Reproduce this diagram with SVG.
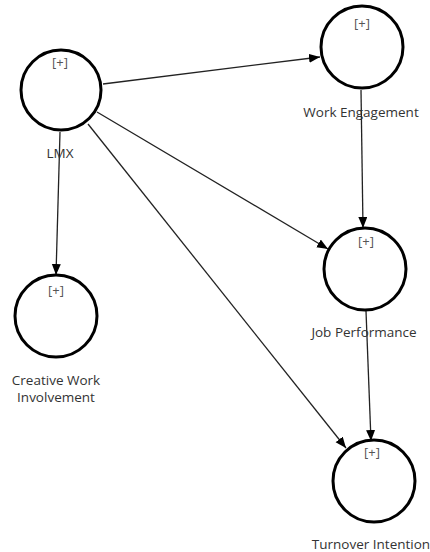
<svg xmlns="http://www.w3.org/2000/svg" width="430" height="552" viewBox="0 0 430 552">
<style>
.node{fill:#fff;stroke:#000;stroke-width:3}
.plus{font-family:"Open Sans","Noto Sans",sans-serif;font-size:13px;fill:#555;text-anchor:middle}
.lbl{font-family:"Open Sans","Noto Sans",sans-serif;font-size:13.5px;fill:#333;text-anchor:middle}
.edge{stroke:#222;stroke-width:1.3;fill:none;marker-end:url(#arr)}
</style>
<defs>
<marker id="arr" markerUnits="userSpaceOnUse" markerWidth="12" markerHeight="10" refX="11" refY="4.5" orient="auto">
<path d="M0,0 L11,4.5 L0,9 z" fill="#000"/>
</marker>
</defs>
<rect width="430" height="552" fill="#fff"/>
<g id="connectors">
<line class="edge" x1="103" y1="84" x2="320" y2="57"/>
<line class="edge" x1="97" y1="112" x2="328" y2="249"/>
<line class="edge" x1="88" y1="124" x2="346" y2="448"/>
<line class="edge" x1="60" y1="132" x2="56" y2="275"/>
<line class="edge" x1="361" y1="90" x2="363" y2="228"/>
<line class="edge" x1="366" y1="311" x2="371" y2="441"/>
</g>
<g id="lmx">
<circle class="node" cx="61" cy="90" r="40"/>
<text class="plus" x="60" y="67">[+]</text>
<text class="lbl" x="60" y="158">LMX</text>
</g>
<g id="work-engagement">
<circle class="node" cx="362" cy="47" r="41"/>
<text class="plus" x="362" y="28">[+]</text>
<text class="lbl" x="361" y="117">Work Engagement</text>
</g>
<g id="job-performance">
<circle class="node" cx="365" cy="269" r="41"/>
<text class="plus" x="366" y="246">[+]</text>
<text class="lbl" x="364" y="337">Job Performance</text>
</g>
<g id="creative-work">
<circle class="node" cx="56" cy="316" r="41"/>
<text class="plus" x="56" y="295">[+]</text>
<text class="lbl" x="56" y="385">Creative Work</text>
<text class="lbl" x="56" y="402">Involvement</text>
</g>
<g id="turnover">
<circle class="node" cx="374" cy="481" r="41"/>
<text class="plus" x="372" y="457">[+]</text>
<text class="lbl" x="371" y="549">Turnover Intention</text>
</g>
</svg>
